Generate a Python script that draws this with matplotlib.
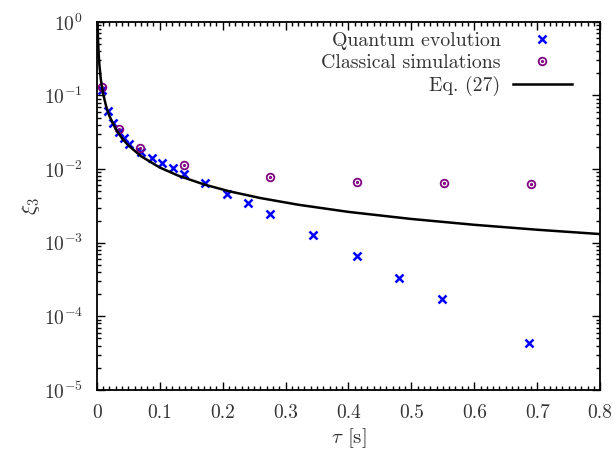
import numpy as np
import matplotlib
matplotlib.use("Agg")
import matplotlib.pyplot as plt
from matplotlib.ticker import MultipleLocator, LogLocator, NullFormatter

plt.rcParams['font.family'] = 'serif'
plt.rcParams['font.serif'] = ['cmr10']
plt.rcParams['mathtext.fontset'] = 'cm'
plt.rcParams['axes.formatter.use_mathtext'] = True

# quantum evolution (crosses)
tau_q = [0.0084, 0.017, 0.026, 0.035, 0.0434, 0.0513, 0.0695, 0.087, 0.104, 0.121,
         0.138, 0.172, 0.207, 0.241, 0.275, 0.344, 0.413, 0.480, 0.549, 0.687]
xi_q = [0.119, 0.0618, 0.042, 0.0317, 0.0263, 0.0222, 0.0173, 0.0141, 0.0120, 0.0102,
        0.0087, 0.00643, 0.00464, 0.00344, 0.00249, 0.00129, 0.000662, 0.000333,
        0.000171, 0.0000431]

# classical simulations (circles)
tau_c = [0.0084, 0.035, 0.069, 0.138, 0.2755, 0.414, 0.552, 0.690]
xi_c = [0.130, 0.0348, 0.0194, 0.0114, 0.00783, 0.00677, 0.00649, 0.00623]

# Eq. (27) curve
tau_eq = [0.00105, 0.002, 0.003, 0.004, 0.006, 0.008, 0.01, 0.015, 0.02, 0.03, 0.04,
          0.05, 0.07, 0.1, 0.13, 0.17, 0.21, 0.26, 0.32, 0.4, 0.5, 0.6, 0.7, 0.8]
xi_eq = [1.0, 0.525, 0.35, 0.262, 0.175, 0.131, 0.105, 0.070, 0.0525, 0.035, 0.0262,
         0.021, 0.015, 0.0105, 0.0081, 0.0062, 0.005, 0.00404, 0.00328, 0.00262,
         0.0021, 0.00175, 0.0015, 0.00131]

txt = '#333333'
purple = '#800080'

fig = plt.figure(figsize=(6.13, 4.55), dpi=100)
ax = fig.add_axes([0.158, 0.143, 0.821, 0.809])

hq, = ax.plot(tau_q, xi_q, ls='none', marker='x', color='#0000ff', ms=5.2, mew=1.8)
hc1, = ax.plot(tau_c, xi_c, ls='none', marker='o', mfc='none', mec=purple, ms=5.5, mew=1.3)
hc2, = ax.plot(tau_c, xi_c, ls='none', marker='o', color=purple, ms=1.3)
he, = ax.plot(tau_eq, xi_eq, color='black', lw=1.8)

ax.set_yscale('log')
ax.set_xlim(0, 0.8)
ax.set_ylim(1e-5, 1)
ax.xaxis.set_major_locator(MultipleLocator(0.1))
ax.xaxis.set_minor_locator(MultipleLocator(0.01))
ax.yaxis.set_major_locator(LogLocator(base=10, numticks=10))
ax.yaxis.set_minor_locator(LogLocator(base=10, subs=np.arange(2, 10), numticks=10))
ax.yaxis.set_minor_formatter(NullFormatter())
ax.xaxis.set_major_formatter(plt.FuncFormatter(lambda v, p: '0' if abs(v) < 1e-9 else '%.1f' % v))

ax.tick_params(which='both', direction='in', top=True, right=True, labelsize=14,
               labelcolor=txt, width=1)
ax.tick_params(which='major', length=6, pad=10)
ax.tick_params(which='minor', length=3)
for s in ax.spines.values():
    s.set_linewidth(1.3)

ax.set_xlabel(r'$\tau$ [s]', fontsize=15, color=txt, labelpad=3)
ax.set_ylabel(r'$\xi_3$', fontsize=15, color=txt, labelpad=1)

leg = ax.legend([hq, (hc1, hc2), he],
                ['Quantum evolution', 'Classical simulations', 'Eq. (27)'],
                loc='upper right', bbox_to_anchor=(0.968, 1.004), frameon=False,
                markerfirst=False, fontsize=14.3, handlelength=3.0,
                labelspacing=0.2, handletextpad=0.6, borderaxespad=0.2)
for t in leg.get_texts():
    t.set_color(txt)

fig.savefig('out.png', dpi=100)
